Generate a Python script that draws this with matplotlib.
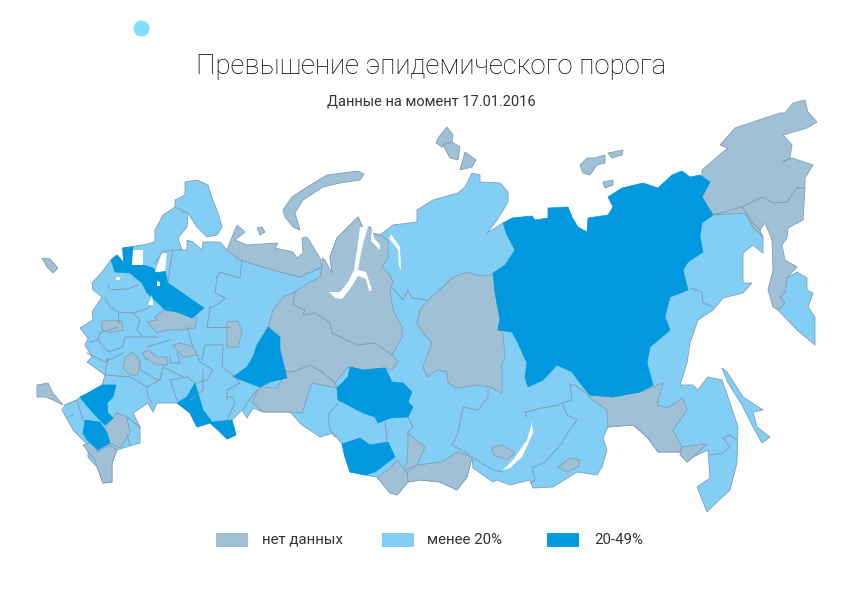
import matplotlib
matplotlib.use("Agg")
import matplotlib.pyplot as plt

# Colours
GREY = '#a0c0d5'
LIGHT = '#82cef5'
DARK = '#0099e0'
BORDER = '#7f9fb8'

# Legend
legend_labels = ['нет данных', 'менее 20%', '20-49%']
legend_colors = [GREY, LIGHT, DARK]
legend_x = [216, 382, 547]
legend_text_x = [262, 427, 594]

# Region outlines (x, y in image pixels)
mainland = [(122,248),(143,245),(155,242),(155,230),(163,215),(175,207),(175,200),(185,195),(185,182),(197,180),
    (208,185),(212,198),(218,213),(222,227),(217,235),(207,237),(197,227),(188,213),(187,227),(178,238),(182,250),
    (187,250),(187,240),(193,242),(202,250),(203,242),(220,242),(227,250),(240,260),(280,272),(300,277),(322,267),
    (332,273),(330,257),(337,238),(353,222),(358,217),(363,228),(370,227),(373,233),(380,235),(393,225),(417,222),
    (417,210),(433,200),(458,193),(465,187),(472,173),(480,175),(480,182),(500,183),(508,192),(508,202),(497,220),
    (487,233),(503,223),(600,300),(703,215),(745,213),(753,227),(763,237),(763,253),(753,245),(743,253),(743,283),
    (752,283),(743,293),(723,298),(713,310),(698,320),(690,343),(687,363),(680,385),(693,385),(698,390),(703,383),
    (708,377),(722,380),(728,397),(738,427),(737,463),(730,490),(717,502),(707,512),(697,487),(710,478),(708,450),
    (693,457),(687,462),(680,452),(658,452),(647,437),(633,425),(608,427),(603,438),(607,450),(602,467),(597,475),
    (577,472),(553,487),(533,488),(530,480),(510,485),(497,480),(493,482),(473,468),(472,457),(467,477),(457,490),
    (440,482),(420,480),(408,482),(397,495),(390,493),(377,477),(365,475),(350,472),(345,457),(342,444),(333,433),
    (320,437),(302,425),(290,412),(263,412),(253,408),(247,418),(242,410),(232,420),(236,435),(227,439),(218,430),(210,423),
    (197,427),(190,413),(177,403),(157,403),(153,412),(148,403),(133,413),(140,427),(140,443),(133,445),(117,450),
    (112,463),(112,482),(103,483),(97,467),(88,457),(88,445),(73,430),(62,410),(65,405),(77,400),(80,397),(88,393),(102,385),(105,375),
    (87,362),(92,357),(85,345),(88,338),(80,328),(93,320),(92,312),(102,297),(93,290),(92,283),(102,272),(111,260),(117,255),
    (124,263)]
kamchatka = [(797,272),(807,278),(807,290),(813,293),(808,307),(815,317),(815,345),(797,330),(778,310),(785,303),
    (780,297),(785,292),(787,278)]
sakhalin = [(722,368),(727,372),(743,397),(763,410),(753,412),(757,427),(770,437),(762,443),(753,427),(742,405),(728,383)]

no_data = {
    'nenets': [(227,250),(230,242),(237,225),(245,232),(235,240),(247,245),(278,243),(275,248),(293,252),(297,258),
        (303,253),(302,238),(307,237),(320,258),(322,267),(300,277),(280,272),(240,260)],
    'yamal_khanty': [(322,268),(320,277),(305,285),(295,292),(283,297),(273,310),(268,327),(277,340),(280,360),(286,372),
        (293,372),(310,365),(322,372),(335,383),(348,367),(363,370),(385,368),(392,370),(398,362),(392,355),(402,337),
        (402,327),(393,310),(390,290),(393,282),(390,275),(382,267),(388,258),(388,240),(380,235),(373,233),(370,227),
        (363,228),(358,217),(353,222),(337,238),(330,257),(332,273),(325,260),(322,258)],
    'chelyabinsk_kurgan': [(252,402),(260,387),(277,388),(286,372),(293,372),(310,365),(322,372),(335,383),(337,388),
        (312,383),(302,413),(290,412),(263,412)],
    'evenkia': [(443,287),(453,277),(467,272),(480,276),(493,275),(498,293),(497,303),(500,320),(498,328),(503,333),
        (505,357),(502,363),(502,393),(490,387),(477,385),(457,388),(448,383),(447,372),(437,370),(427,377),(423,367),
        (432,343),(423,333),(417,323),(420,310),(430,298)],
    'khakassia': [(408,433),(425,447),(417,465),(402,472),(407,463),(408,447)],
    'tyva': [(407,473),(417,465),(442,462),(457,452),(472,457),(467,477),(457,490),(440,482),(420,480),(408,482)],
    'altai': [(377,477),(388,470),(397,460),(407,473),(408,482),(397,495),(390,493)],
    'irkutsk_patch': [(492,447),(503,445),(515,453),(507,460),(493,455)],
    'agin_patch': [(558,467),(570,458),(580,460),(578,467),(567,472)],
    'amur': [(588,395),(613,397),(640,392),(663,383),(657,405),(667,408),(683,398),(687,410),(673,430),(682,447),
        (680,452),(658,452),(647,437),(633,425),(608,427),(607,410),(590,398)],
    'jewish': [(682,447),(707,444),(693,457),(687,462),(680,455)],
    'chukotka_koryak': [(702,170),(717,157),(728,148),(720,145),(735,128),(780,113),(785,113),(793,103),(805,100),
        (808,112),(817,122),(807,128),(783,135),(792,145),(790,158),(782,162),(792,158),(813,165),(805,178),(805,188),
        (803,220),(788,228),(787,238),(782,245),(785,260),(797,267),(787,278),(785,292),(780,297),(785,303),(778,310),
        (773,307),(768,290),(773,270),(772,240),(765,223),(760,230),(763,237),(753,227),(745,213),(713,215),(702,197)],
    'novaya_zemlya': [(283,210),(292,197),(307,187),(327,175),(358,171),(364,174),(360,180),(340,183),(323,187),
        (303,200),(295,213),(300,230),(293,227),(285,217)],
    'kolguev': [(257,228),(262,227),(265,232),(260,235)],
    'sev_zemlya_a': [(438,138),(447,127),(453,135),(452,142),(442,147),(436,143)],
    'sev_zemlya_b': [(443,145),(452,142),(460,147),(458,160),(450,158)],
    'sev_zemlya_c': [(460,170),(465,152),(476,160),(472,167)],
    'new_siberia_a': [(580,165),(587,158),(595,158),(605,155),(605,163),(597,165),(590,175),(583,173)],
    'new_siberia_b': [(608,153),(623,150),(622,155),(612,158)],
    'new_siberia_c': [(603,182),(613,180),(613,185),(605,188)],
    'kaliningrad': [(42,258),(50,259),(58,268),(53,273),(47,267)],
    'crimea': [(37,385),(48,383),(53,393),(63,405),(53,400),(45,397),(37,397)],
    'smolensk': [(101,322),(110,320),(122,321),(123,330),(110,333),(102,330)],
    'kostroma': [(147,322),(157,320),(155,317),(168,307),(178,312),(197,318),(195,328),(180,330),(168,330),(157,333)],
    'perm_patch': [(227,322),(238,321),(242,332),(238,347),(227,347)],
    'tatar': [(173,345),(180,343),(193,347),(197,355),(183,357),(177,350)],
    'penza': [(142,353),(148,350),(157,357),(167,357),(167,365),(157,365),(145,358)],
    'tambov': [(125,357),(133,352),(140,360),(138,375),(130,375),(123,368)],
    'kalmykia': [(105,427),(117,413),(127,417),(130,433),(120,448),(110,443)],
    'dagestan': [(83,445),(92,442),(98,452),(110,445),(117,450),(112,463),(112,482),(103,483),(97,467),(95,460)],
}

over_threshold = {
    'yakutia': [(503,223),(512,218),(532,216),(535,220),(548,218),(548,208),(568,207),(572,217),(578,227),(587,232),
        (588,218),(608,215),(613,207),(608,197),(622,188),(643,183),(658,188),(672,175),(682,171),(690,177),(700,175),
        (710,182),(702,197),(713,215),(702,223),(700,237),(703,252),(688,262),(683,270),(688,290),(670,297),(665,317),
        (670,330),(650,347),(647,363),(653,385),(640,392),(613,397),(590,395),(580,383),(572,372),(557,365),(543,380),
        (528,387),(525,377),(527,363),(518,343),(512,332),(498,330),(500,318),(495,293),(493,273),(505,265),(515,250),
        (507,235)],
    'sverdlovsk': [(268,327),(280,337),(280,350),(287,378),(270,382),(260,387),(233,377),(247,367),(253,357),(257,345)],
    'orenburg': [(195,383),(203,410),(212,422),(232,420),(236,435),(227,439),(218,430),(210,423),(197,427),(190,413),
        (177,403),(187,397)],
    'tomsk': [(350,367),(363,370),(385,368),(392,382),(403,383),(412,392),(408,402),(413,407),(408,417),(390,418),
        (378,423),(375,417),(363,413),(348,405),(338,400),(337,388),(348,377)],
    'altai_krai': [(342,444),(360,438),(370,445),(388,442),(395,457),(375,472),(365,475),(350,472),(345,457)],
    'rostov': [(102,385),(116,385),(113,397),(107,403),(108,413),(113,418),(105,425),(95,415),(88,407),(80,397),(88,393)],
    'stavropol': [(85,420),(100,422),(107,433),(110,443),(98,450),(87,440),(83,433)],
    'northwest': [(111,260),(117,255),(124,263),(123,248),(133,247),(132,265),(143,265),(153,268),(157,273),(165,271),
        (168,283),(185,295),(204,308),(192,318),(177,312),(165,310),(158,303),(147,293),(142,283),(130,273),(115,272)],
}

# Inner region borders (x, y in image pixels)
borders = [
    [(108,285),(110,290),(127,289),(138,285)], [(105,298),(110,307),(118,312),(133,313),(143,310),(150,307)],
    [(118,312),(118,323)], [(133,313),(140,320),(137,330),(143,337),(158,337)], [(100,333),(118,327)],
    [(90,342),(98,340),(108,352),(123,347),(125,337),(140,337)], [(98,340),(100,333)], [(87,353),(105,362),(123,353)],
    [(105,362),(108,358),(105,375),(130,377)], [(130,377),(147,387),(160,380),(163,367)], [(140,360),(140,370),(158,380)],
    [(147,387),(148,397),(152,403)], [(170,380),(177,400)], [(170,380),(187,377),(195,383)], [(163,367),(183,377)],
    [(170,357),(170,363),(180,363),(177,352)], [(197,355),(200,362),(213,370),(207,380),(197,383)],
    [(202,360),(205,345),(223,345),(222,367),(233,375)], [(170,340),(147,347)], [(207,327),(230,327)],
    [(187,327),(193,347)], [(210,308),(207,327)], [(217,277),(215,293),(225,298),(220,303),(210,308)],
    [(217,277),(220,272),(240,278),(242,260)], [(168,283),(170,267),(173,250),(182,250)], [(155,263),(162,252),(173,250)],
    [(175,207),(187,213)], [(203,370),(203,390),(190,400)], [(227,400),(227,390),(240,383),(233,375)],
    [(227,420),(235,403),(233,397),(227,397)], [(257,390),(247,403),(243,410)], [(65,405),(77,400),(83,420)],
    [(73,415),(68,417)], [(127,417),(140,427)], [(127,435),(130,445)],
    [(295,292),(293,305),(305,310),(303,315),(315,313),(330,323),(332,333),(357,345),(375,343),(392,355)],
    [(338,403),(328,415),(330,430),(335,437)], [(385,422),(387,440)], [(408,417),(413,427),(407,433)],
    [(393,288),(403,300),(408,290),(412,298),(427,300)],
    [(488,390),(488,397),(478,410),(463,407),(460,423),(458,433),(452,445),(470,455)],
    [(472,457),(493,470),(503,472)], [(525,412),(542,408),(558,405),(565,402),(572,400),(570,385),(575,385),(590,396)],
    [(563,405),(567,415),(577,420),(565,437),(562,443),(545,462),(532,468),(535,480),(530,483)],
    [(525,412),(527,417)], [(710,455),(723,453),(730,447),(723,438),(730,435),(737,440)],
    [(690,288),(702,292),(703,303),(713,307)], [(742,207),(762,197),(773,203),(787,202),(797,188),(803,188)],
    [(742,207),(753,223),(760,230)], [(712,215),(742,207)],
]

# White water on top of the land
water = [
    [(363,227),(368,227),(364,240),(361,253),(358,270),(366,272),(372,290),(369,291),(366,279),(358,276),(350,289),
     (342,299),(335,298),(329,292),(340,292),(348,282),(354,270),(357,250),(360,227)],
    [(391,234),(400,247),(401,270),(399,266),(398,250),(389,238)],
    [(372,227),(374,238),(380,245),(380,250),(371,241)],
    [(532,422),(533,433),(522,457),(510,468),(503,470),(513,460),(527,440)],
    [(133,250),(143,250),(143,265),(132,265)],
    [(155,272),(162,253),(167,253),(165,271)],
    [(152,295),(153,305),(148,305)],
    [(157,281),(160,282),(160,286),(157,286)],
    [(116,277),(120,277),(120,280),(116,280)],
]

fig = plt.figure(figsize=(8.62, 6.03), dpi=100)
ax = fig.add_axes([0, 0, 1, 1])
ax.set_xlim(0, 862)
ax.set_ylim(603, 0)
ax.axis('off')


def draw_region(points, color):
    xs = [p[0] for p in points]
    ys = [p[1] for p in points]
    ax.fill(xs, ys, facecolor=color, edgecolor=BORDER, linewidth=0.6)


for outline in [mainland, kamchatka, sakhalin]:
    draw_region(outline, LIGHT)
for line in borders:
    ax.plot([p[0] for p in line], [p[1] for p in line], color=BORDER, linewidth=0.7)
for outline in no_data.values():
    draw_region(outline, GREY)
for outline in over_threshold.values():
    ax.fill([p[0] for p in outline], [p[1] for p in outline], facecolor=DARK, edgecolor=DARK, linewidth=0.5)
for outline in water:
    ax.fill([p[0] for p in outline], [p[1] for p in outline], facecolor='white', edgecolor='none')

# Dot in the corner
ax.scatter([141], [28], s=133, color='#7fe0ff', linewidths=0)

# Titles
ax.text(431, 66, 'Превышение эпидемического порога', ha='center', va='center',
        fontsize=19.9, family='Roboto', weight='light', color='#000000')
ax.text(431, 102, 'Данные на момент 17.01.2016', ha='center', va='center',
        fontsize=10.5, family='Roboto', color='#333333')

# Legend
for x, tx, color, label in zip(legend_x, legend_text_x, legend_colors, legend_labels):
    ax.add_patch(plt.Rectangle((x, 533), 32, 14, facecolor=color, edgecolor='none'))
    ax.text(tx, 540, label, ha='left', va='center', fontsize=10.8, family='Roboto', color='#333333')

fig.savefig('out.png', dpi=100)
